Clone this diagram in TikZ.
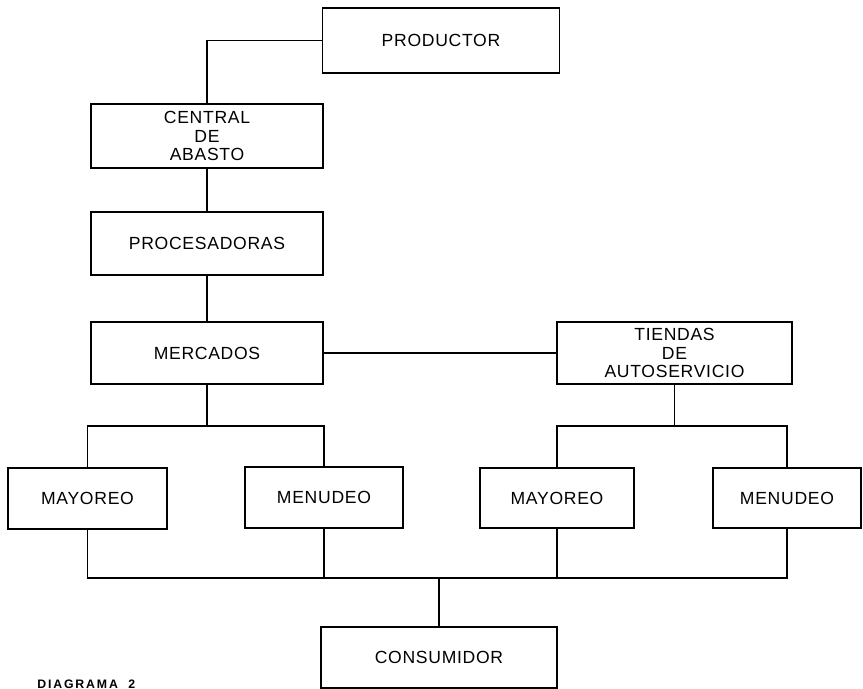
\documentclass[tikz,border=0pt]{standalone}
\usepackage{fontspec}
\setmainfont{Liberation Sans}
\tikzset{
    caja/.style={draw, line width=1.1pt, align=center, font=\fontsize{10}{10.5}\selectfont\addfontfeature{LetterSpace=4}, inner sep=0pt},
    linea/.style={line width=0.8pt}
}
\begin{document}
\begin{tikzpicture}
        \useasboundingbox (0, 0) rectangle (17.26, -13.78);
        \node[caja, minimum width=4.74cm, minimum height=1.3cm] (prod) at (8.82, -0.81) {PRODUCTOR};
        \node[caja, minimum width=4.64cm, minimum height=1.28cm] (central) at (4.14, -2.72) {CENTRAL\\DE\\ABASTO};
        \node[caja, minimum width=4.64cm, minimum height=1.26cm] (proc) at (4.14, -4.87) {PROCESADORAS};
        \node[caja, minimum width=4.64cm, minimum height=1.24cm] (merc) at (4.14, -7.06) {MERCADOS};
        \node[caja, minimum width=4.7cm, minimum height=1.24cm] (tiendas) at (13.49, -7.06) {TIENDAS\\DE\\AUTOSERVICIO};
        \node[caja, minimum width=3.18cm, minimum height=1.22cm] (mayL) at (1.75, -9.97) {MAYOREO};
        \node[caja, minimum width=3.16cm, minimum height=1.22cm] (menL) at (6.48, -9.95) {MENUDEO};
        \node[caja, minimum width=3.08cm, minimum height=1.2cm] (mayR) at (11.14, -9.96) {MAYOREO};
        \node[caja, minimum width=2.96cm, minimum height=1.2cm] (menR) at (15.74, -9.96) {MENUDEO};
        \node[caja, minimum width=4.72cm, minimum height=1.22cm] (cons) at (8.78, -13.15) {CONSUMIDOR};
        \node[anchor=south west, inner sep=0pt, font=\bfseries\fontsize{7}{7}\selectfont\addfontfeature{LetterSpace=15}] (diag) at (0.74, -13.78) {DIAGRAMA\ \ 2};
        \coordinate (barL) at (4.14, -8.52);
        \coordinate (barR) at (13.49, -8.52);
        \coordinate (barB) at (8.78, -11.56);
        \draw[linea] (prod.west) -| (central.north);
        \draw[linea] (central.south) -- (proc.north);
        \draw[linea] (proc.south) -- (merc.north);
        \draw[linea] (merc.east) -- (tiendas.west);
        \draw[linea] (merc.south) -- (barL);
        \draw[linea] (mayL.north) |- (barL) -| (menL.north);
        \draw[linea] (tiendas.south) -- (barR);
        \draw[linea] (mayR.north) |- (barR) -| (menR.north);
        \draw[linea] (mayL.south) |- (barB) -| (menR.south);
        \draw[linea] (menL.south) -- (menL.south |- barB);
        \draw[linea] (mayR.south) -- (mayR.south |- barB);
        \draw[linea] (barB) -- (cons.north);
    \end{tikzpicture}
\end{document}
